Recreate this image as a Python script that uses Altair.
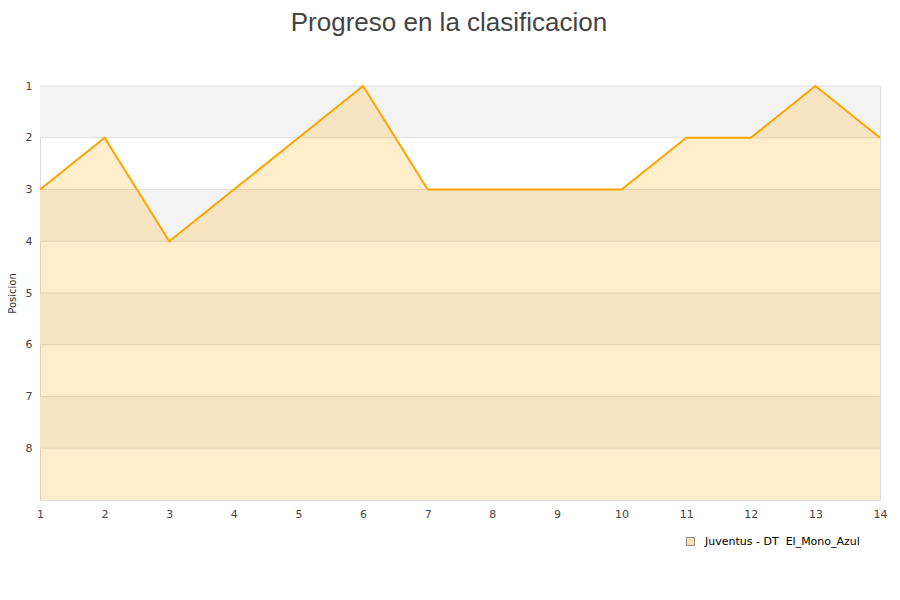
import altair as alt
import pandas as pd

jornadas = list(range(1, 15))
posiciones = [3, 2, 4, 3, 2, 1, 3, 3, 3, 3, 2, 2, 1, 2]
equipo = "Juventus - DT\u00a0 El_Mono_Azul"
band_start = [1, 3, 5, 7]
band_end = [2, 4, 6, 8]
grid_pos = [1, 2, 3, 4, 5, 6, 7, 8]
y_min, y_max = 1, 9

df = pd.DataFrame({"jornada": jornadas, "pos": posiciones, "base": [y_max] * len(jornadas),
                   "equipo": [equipo] * len(jornadas)})
bands = pd.DataFrame({"y1": band_start, "y2": band_end})
grid = pd.DataFrame({"g": grid_pos})

xscale = alt.Scale(domain=[1, 14], nice=False, zero=False)
yscale = alt.Scale(domain=[y_min, y_max], reverse=True, nice=False, zero=False)

xaxis = alt.Axis(values=jornadas, title=None, grid=False, domain=False, ticks=False,
                 labelFont="DejaVu Sans", labelFontSize=11, labelColor="#444444",
                 labelPadding=8, labelFlush=False, labelBound=False, format="d")
yaxis = alt.Axis(values=grid_pos, title="Posicion", grid=False, domain=False, ticks=False,
                 labelFont="DejaVu Sans", labelFontSize=11, labelColor="#444444",
                 labelPadding=8, titleFont="DejaVu Sans", titleFontSize=10,
                 titleFontWeight="normal", titleColor="#333333", titlePadding=8, format="d")

band_layer = alt.Chart(bands).mark_rect(fill="#f3f3f3").encode(
    x=alt.value(0), x2=alt.value(840),
    y=alt.Y("y1:Q", scale=yscale, axis=yaxis), y2="y2:Q")

grid_layer = alt.Chart(grid).mark_rule(color="#dedede", strokeWidth=1).encode(
    y=alt.Y("g:Q", scale=yscale), x=alt.value(0), x2=alt.value(840))

area_layer = alt.Chart(df).mark_area(opacity=0.2, color="orange").encode(
    x=alt.X("jornada:Q", scale=xscale, axis=xaxis),
    y=alt.Y("pos:Q", scale=yscale), y2="base:Q")

legend_layer = alt.Chart(df).mark_square(size=0).encode(
    x=alt.X("jornada:Q", scale=xscale),
    y=alt.Y("pos:Q", scale=yscale),
    fill=alt.Fill("equipo:N", scale=alt.Scale(range=["#ffe2b0"]),
                  legend=alt.Legend(title=None, orient="none", legendX=645, legendY=450,
                                    symbolType="square", symbolSize=64,
                                    symbolStrokeColor="#888888", symbolStrokeWidth=1,
                                    symbolOpacity=1,
                                    labelFont="DejaVu Sans", labelFontSize=11,
                                    labelColor="#000000", labelOffset=9)))

line_layer = alt.Chart(df).mark_line(color="orange", strokeWidth=2).encode(
    x=alt.X("jornada:Q", scale=xscale),
    y=alt.Y("pos:Q", scale=yscale))

chart = alt.layer(band_layer, grid_layer, area_layer, line_layer, legend_layer).properties(
    width=840, height=414,
    title=alt.Title("Progreso en la clasificacion", font="Liberation Sans", fontSize=26,
                    fontWeight="normal", color="#444444", anchor="middle", dx=-11, offset=44),
    autosize=alt.AutoSizeParams(type="none"),
    padding={"left": 32, "top": 78, "right": 12, "bottom": 92},
).configure_view(stroke="#dddddd", strokeWidth=1).configure(background="white")

chart.save("out.html", embed_options={"renderer": "svg", "actions": False})
